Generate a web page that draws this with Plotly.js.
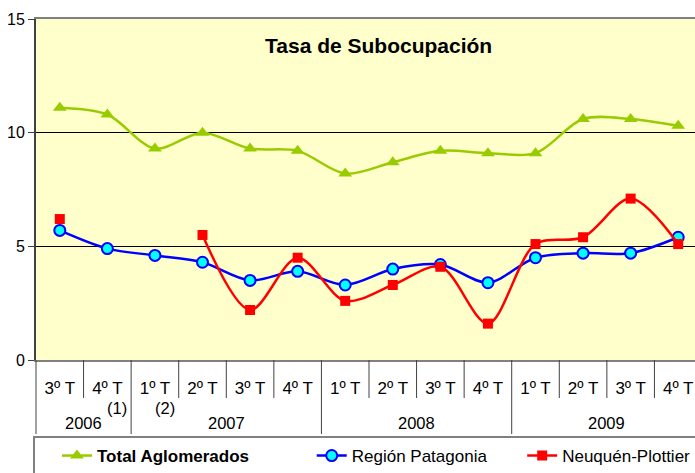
<!DOCTYPE html>
<html>
<head>
<meta charset="utf-8">
<script src="https://cdn.plot.ly/plotly-3.0.1.min.js"></script>
<style>
html,body{margin:0;padding:0;background:#fff;overflow:hidden;width:695px;height:473px;}
#chart{width:720px;height:473px;}
</style>
</head>
<body>
<div id="chart"></div>
<script>
const quarters = ["3º T","4º T","1º T","2º T","3º T","4º T","1º T","2º T","3º T","4º T","1º T","2º T","3º T","4º T"];
const years = ["2006","2006","2007","2007","2007","2007","2008","2008","2008","2008","2009","2009","2009","2009"];
const notes = ["","(1)","(2)","","","","","","","","","","",""];
const totalAglomerados = [11.1,10.8,9.3,10.0,9.3,9.2,8.2,8.7,9.2,9.1,9.1,10.6,10.6,10.3];
const regionPatagonia = [5.7,4.9,4.6,4.3,3.5,3.9,3.3,4.0,4.2,3.4,4.5,4.7,4.7,5.4];
const neuquenPlottier = [6.2,null,null,5.5,2.2,4.5,2.6,3.3,4.1,1.6,5.1,5.4,7.1,5.1];
const seriesNames = ["<b>Total Aglomerados</b>","Región Patagonia","Neuquén-Plottier"];
const titleText = "<b>Tasa de Subocupación</b>";

const idx = quarters.map((_, i) => i);
const FONT = "Arial, 'Liberation Sans', sans-serif";

const traces = [
  {x: idx, y: totalAglomerados, name: seriesNames[0], type: "scatter", mode: "lines+markers",
   line: {color: "#99CC00", width: 2.5, shape: "spline", smoothing: 0.9},
   marker: {symbol: "triangle-up", size: 12, color: "#99CC00"}, legend: "legend"},
  {x: idx, y: regionPatagonia, name: seriesNames[1], type: "scatter", mode: "lines+markers",
   line: {color: "#0000FF", width: 2.5, shape: "spline", smoothing: 0.9},
   marker: {symbol: "circle", size: 11, color: "#00FFFF", line: {color: "#0000FF", width: 2}}, legend: "legend2"},
  {x: idx, y: neuquenPlottier, name: seriesNames[2], type: "scatter", mode: "lines+markers", connectgaps: false,
   line: {color: "#FF0000", width: 2.5, shape: "spline", smoothing: 0.9},
   marker: {symbol: "square", size: 10, color: "#FF0000"}, legend: "legend3"}
];

// separators below axis
const shapes = [];
const plotH = 341;
const pShort = -38 / plotH, pLong = -74 / plotH;
for (let i = 1; i < quarters.length; i++) {
  const yearBreak = years[i] !== years[i-1];
  shapes.push({type: "line", xref: "x", yref: "paper", x0: i - 0.5, x1: i - 0.5, y0: 0, y1: yearBreak ? pLong : pShort,
               line: {color: "#404040", width: 1}});
}
shapes.push({type: "line", xref: "paper", yref: "paper", x0: 0, x1: 0, y0: 0, y1: pLong, line: {color: "#404040", width: 1}});
// legend frame
shapes.push({type: "rect", xref: "paper", yref: "paper", x0: -0.003, x1: 1.2, y0: -77 / plotH, y1: -130 / plotH,
             line: {color: "#808080", width: 2}, fillcolor: "rgba(0,0,0,0)"});

const annotations = [];
// year labels
const uniqYears = [...new Set(years)];
uniqYears.forEach(yr => {
  const pos = idx.filter(i => years[i] === yr);
  const c = (pos[0] + pos[pos.length - 1]) / 2;
  annotations.push({x: c, y: -63 / plotH, xref: "x", yref: "paper", text: yr, showarrow: false,
                    font: {family: FONT, size: 16.5, color: "#000"}, xanchor: "center", yanchor: "middle"});
});
notes.forEach((n, i) => {
  if (n) annotations.push({x: i, y: -48 / plotH, xref: "x", yref: "paper", text: n, showarrow: false, xshift: 10,
                           font: {family: FONT, size: 16.5, color: "#000"}, xanchor: "center", yanchor: "middle"});
});
annotations.push({x: 0.515, y: (360 - 45) / plotH, xref: "paper", yref: "paper", text: titleText, showarrow: false,
                  font: {family: FONT, size: 21, color: "#000"}, xanchor: "center", yanchor: "middle"});

const legBase = {orientation: "h", yanchor: "middle", xanchor: "left", y: -96 / plotH,
                 bgcolor: "rgba(0,0,0,0)", borderwidth: 0, font: {family: FONT, size: 17, color: "#000"}};

const layout = {
  width: 720, height: 473,
  margin: {l: 36, r: 18, t: 19, b: 113, pad: 0, autoexpand: false},
  paper_bgcolor: "#FFFFFF", plot_bgcolor: "#FFFFCC",
  font: {family: FONT, size: 16, color: "#000"},
  showlegend: true,
  legend: Object.assign({}, legBase, {x: 0.0315}),
  legend2: Object.assign({}, legBase, {x: 0.414}),
  legend3: Object.assign({}, legBase, {x: 0.730}),
  xaxis: {range: [-0.5, 13.5], tickvals: idx, ticktext: quarters, showgrid: false, zeroline: false,
          showline: true, linecolor: "#808080", linewidth: 2, mirror: true, ticks: "",
          ticklabelstandoff: 12, tickfont: {family: FONT, size: 17, color: "#000"}, fixedrange: true},
  yaxis: {range: [0, 15], tickvals: [0, 5, 10, 15], showgrid: true, gridcolor: "#000000", gridwidth: 1,
          zeroline: false, showline: true, linecolor: "#404040", linewidth: 2, ticks: "outside", ticklen: 6,
          tickcolor: "#404040", tickwidth: 1, tickfont: {family: FONT, size: 16, color: "#000"}, fixedrange: true},
  shapes: shapes, annotations: annotations
};

Plotly.newPlot("chart", traces, layout, {displayModeBar: false, staticPlot: true});
</script>
</body>
</html>
